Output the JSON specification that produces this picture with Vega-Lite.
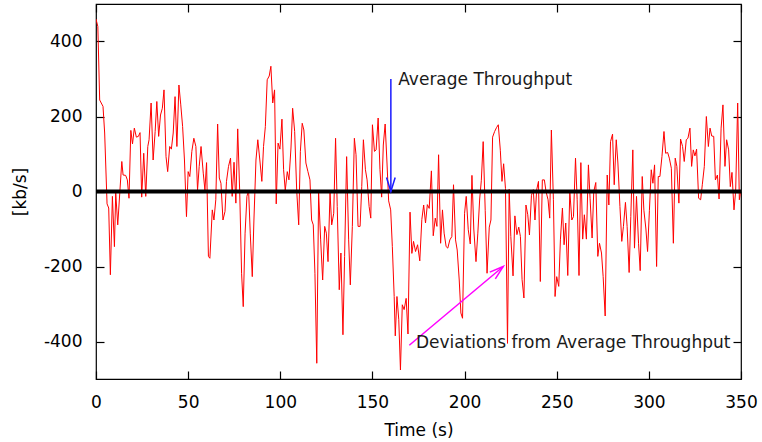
{
  "$schema": "https://vega.github.io/schema/vega-lite/v6.json",
  "width": 645,
  "height": 375,
  "autosize": {"type": "none"},
  "padding": {"left": 96, "top": 4, "right": 21, "bottom": 63},
  "background": "white",
  "config": {
    "view": {"stroke": "black", "strokeWidth": 1.2},
    "axis": {
      "labelFont": "DejaVu Sans", "titleFont": "DejaVu Sans",
      "labelFontSize": 17, "titleFontSize": 17,
      "labelColor": "black", "titleColor": "black", "titleFontWeight": "normal",
      "domain": false, "grid": false, "tickColor": "black", "tickSize": -8, "tickWidth": 1.2
    }
  },
  "datasets": {
    "dev": [
      {"t":0,"v":460},{"t":1,"v":440},{"t":2,"v":244},{"t":3.8,"v":227},{"t":4.7,"v":156},{"t":6,"v":-33},{"t":6.9,"v":-44},{"t":7.8,"v":-222},{"t":8.9,"v":-13},{"t":10,"v":-147},
      {"t":10.7,"v":-4},{"t":11.8,"v":-89},{"t":12.9,"v":-4},{"t":14,"v":80},{"t":14.7,"v":44},{"t":16.1,"v":43},{"t":17,"v":31},{"t":17.9,"v":-18},{"t":18.9,"v":163},{"t":19.8,"v":127},
      {"t":20.8,"v":169},{"t":21.9,"v":145},{"t":23,"v":147},{"t":23.9,"v":157},{"t":24.8,"v":-15},{"t":25.9,"v":102},{"t":27,"v":-13},{"t":28.1,"v":120},{"t":28.8,"v":138},{"t":29.9,"v":236},
      {"t":31,"v":84},{"t":32.1,"v":160},{"t":33,"v":240},{"t":34,"v":147},{"t":35,"v":204},{"t":36,"v":222},{"t":36.9,"v":271},{"t":38,"v":93},{"t":38.9,"v":53},{"t":40,"v":120},
      {"t":40.9,"v":113},{"t":41.9,"v":156},{"t":42.9,"v":253},{"t":43.9,"v":120},{"t":45,"v":284},{"t":46,"v":231},{"t":47,"v":173},{"t":48,"v":84},{"t":49.1,"v":-67},{"t":50,"v":53},
      {"t":50.9,"v":40},{"t":52,"v":107},{"t":53.1,"v":142},{"t":54.2,"v":120},{"t":55.1,"v":4},{"t":56,"v":67},{"t":57,"v":120},{"t":58.2,"v":49},{"t":59.1,"v":4},{"t":60,"v":77},
      {"t":61,"v":-173},{"t":61.8,"v":-178},{"t":63.1,"v":-49},{"t":64,"v":-76},{"t":65,"v":-22},{"t":66,"v":180},{"t":66.9,"v":36},{"t":67.8,"v":22},{"t":68.9,"v":-76},{"t":70,"v":-53},
      {"t":70.8,"v":27},{"t":71.9,"v":67},{"t":73,"v":89},{"t":73.9,"v":-13},{"t":74.9,"v":78},{"t":75.9,"v":-31},{"t":76.9,"v":167},{"t":78,"v":-4},{"t":79,"v":-218},{"t":79.9,"v":-307},
      {"t":80.9,"v":-111},{"t":81.9,"v":-13},{"t":82.8,"v":4},{"t":83.7,"v":-111},{"t":84.8,"v":-227},{"t":85.7,"v":-76},{"t":86.8,"v":84},{"t":87.8,"v":138},{"t":88.9,"v":84},{"t":90,"v":27},
      {"t":90.9,"v":120},{"t":91.9,"v":173},{"t":92.9,"v":298},{"t":94,"v":308},{"t":94.9,"v":334},{"t":95.9,"v":236},{"t":96.9,"v":271},{"t":97.8,"v":-33},{"t":98.8,"v":129},{"t":99.8,"v":113},
      {"t":100.9,"v":193},{"t":101.8,"v":58},{"t":102.7,"v":3},{"t":103.8,"v":53},{"t":104.7,"v":31},{"t":105.8,"v":116},{"t":106.7,"v":222},{"t":107.8,"v":160},{"t":108.9,"v":4},{"t":110,"v":-89},
      {"t":110.9,"v":107},{"t":111.9,"v":182},{"t":112.8,"v":164},{"t":113.9,"v":76},{"t":115,"v":53},{"t":116.1,"v":31},{"t":117,"v":-76},{"t":117.9,"v":-89},{"t":118.8,"v":-218},{"t":119.8,"v":-458},
      {"t":120.8,"v":-4},{"t":121.9,"v":-129},{"t":123,"v":-236},{"t":124.1,"v":-93},{"t":125,"v":-111},{"t":125.9,"v":-187},{"t":127,"v":-4},{"t":127.9,"v":-89},{"t":129,"v":-58},{"t":130,"v":142},
      {"t":130.9,"v":-40},{"t":132,"v":-262},{"t":132.9,"v":-164},{"t":134,"v":-382},{"t":134.9,"v":-173},{"t":136,"v":93},{"t":137.1,"v":-129},{"t":138,"v":-249},{"t":139.1,"v":-93},{"t":140.2,"v":142},
      {"t":141.1,"v":98},{"t":142.2,"v":-93},{"t":143.3,"v":-93},{"t":144.2,"v":13},{"t":145.1,"v":138},{"t":146.2,"v":58},{"t":147.1,"v":31},{"t":148.2,"v":-40},{"t":149.1,"v":-71},{"t":150,"v":178},
      {"t":151.1,"v":107},{"t":152,"v":111},{"t":153.1,"v":196},{"t":154.1,"v":58},{"t":155,"v":-15},{"t":155.9,"v":124},{"t":156.9,"v":180},{"t":157.9,"v":76},{"t":158.8,"v":-25},{"t":159.9,"v":-49},
      {"t":160.8,"v":-147},{"t":161.8,"v":-280},{"t":162.4,"v":-385},{"t":163.3,"v":-280},{"t":164.3,"v":-342},{"t":165.2,"v":-476},{"t":166.2,"v":-302},{"t":167.2,"v":-315},{"t":168.3,"v":-285},{"t":169.3,"v":-380},
      {"t":170.4,"v":-55},{"t":171.4,"v":-165},{"t":172.3,"v":-133},{"t":173.4,"v":-160},{"t":174.5,"v":-142},{"t":175.7,"v":-185},{"t":176.8,"v":-75},{"t":177.8,"v":-36},{"t":178.8,"v":-84},{"t":179.8,"v":-35},
      {"t":180.8,"v":-45},{"t":182,"v":55},{"t":183,"v":-118},{"t":184.1,"v":-71},{"t":185,"v":-93},{"t":185.9,"v":98},{"t":187,"v":-138},{"t":188,"v":-49},{"t":188.9,"v":-111},{"t":190,"v":-147},
      {"t":190.9,"v":-151},{"t":192,"v":-129},{"t":193.1,"v":-120},{"t":194,"v":18},{"t":195.1,"v":-129},{"t":196,"v":-156},{"t":197.1,"v":-236},{"t":198,"v":-324},{"t":198.9,"v":-338},{"t":200,"v":-58},
      {"t":200.9,"v":-13},{"t":202,"v":-102},{"t":203.1,"v":-140},{"t":204,"v":43},{"t":205,"v":-100},{"t":206.2,"v":-187},{"t":207.2,"v":-111},{"t":208.2,"v":-20},{"t":209.1,"v":30},{"t":210.1,"v":133},
      {"t":211.2,"v":-50},{"t":212.2,"v":-218},{"t":213.4,"v":-95},{"t":214.3,"v":-76},{"t":215.2,"v":145},{"t":216.3,"v":160},{"t":217.3,"v":170},{"t":218.3,"v":178},{"t":219.4,"v":110},{"t":220.3,"v":27},
      {"t":221.2,"v":74},{"t":222.2,"v":8},{"t":223.3,"v":-405},{"t":224.2,"v":6},{"t":225.1,"v":-120},{"t":226.3,"v":-225},{"t":227.3,"v":-65},{"t":228.4,"v":-115},{"t":229.4,"v":-95},{"t":230.3,"v":-120},
      {"t":231.2,"v":-235},{"t":232.2,"v":-284},{"t":233.3,"v":-36},{"t":234.3,"v":-62},{"t":235.2,"v":-116},{"t":236.3,"v":-10},{"t":237.3,"v":5},{"t":238.2,"v":-76},{"t":239.1,"v":4},{"t":240.1,"v":27},
      {"t":241.1,"v":-240},{"t":242.2,"v":31},{"t":243.3,"v":31},{"t":244.2,"v":0},{"t":245.3,"v":-22},{"t":246.2,"v":-71},{"t":247.1,"v":164},{"t":248.2,"v":-22},{"t":249.1,"v":-280},{"t":250,"v":-227},
      {"t":251.1,"v":-253},{"t":252,"v":-129},{"t":253.1,"v":-44},{"t":254,"v":-142},{"t":254.9,"v":-84},{"t":256,"v":-224},{"t":257.1,"v":0},{"t":258.2,"v":-76},{"t":259.1,"v":-67},{"t":260.2,"v":89},
      {"t":261.1,"v":-22},{"t":262.1,"v":-224},{"t":263.1,"v":77},{"t":264.1,"v":-127},{"t":265,"v":-62},{"t":266.1,"v":-127},{"t":267.2,"v":71},{"t":268.1,"v":-18},{"t":269.2,"v":-124},{"t":270.1,"v":0},
      {"t":271.2,"v":24},{"t":272.3,"v":-173},{"t":273.2,"v":-138},{"t":274.3,"v":-164},{"t":275.2,"v":-227},{"t":276.3,"v":-332},{"t":277.4,"v":44},{"t":278.3,"v":-36},{"t":279.2,"v":133},{"t":280.3,"v":153},
      {"t":281.2,"v":18},{"t":282.3,"v":138},{"t":283.2,"v":76},{"t":284.3,"v":-40},{"t":285.3,"v":-133},{"t":286.2,"v":-93},{"t":287.3,"v":-29},{"t":288.2,"v":-93},{"t":289.3,"v":-216},{"t":290.2,"v":-67},
      {"t":291.3,"v":111},{"t":292.2,"v":-151},{"t":293.3,"v":-13},{"t":294.4,"v":-138},{"t":295.3,"v":-211},{"t":296.4,"v":40},{"t":297.3,"v":-50},{"t":298.4,"v":-100},{"t":299.3,"v":-160},{"t":300.3,"v":-50},
      {"t":301.3,"v":58},{"t":302.2,"v":22},{"t":303.1,"v":71},{"t":304.2,"v":-200},{"t":305.1,"v":40},{"t":306,"v":40},{"t":307.1,"v":93},{"t":308.2,"v":160},{"t":309.1,"v":102},{"t":310.2,"v":104},
      {"t":311.1,"v":89},{"t":312.2,"v":62},{"t":313.3,"v":-138},{"t":314.3,"v":89},{"t":315.2,"v":67},{"t":316.3,"v":-31},{"t":317.2,"v":140},{"t":318.3,"v":120},{"t":319.2,"v":80},{"t":320.3,"v":138},
      {"t":321.2,"v":142},{"t":322.3,"v":169},{"t":323.2,"v":67},{"t":324.1,"v":111},{"t":325,"v":95},{"t":325.9,"v":113},{"t":327,"v":-18},{"t":328.1,"v":-22},{"t":329,"v":18},{"t":330.1,"v":67},
      {"t":331.2,"v":200},{"t":332.3,"v":120},{"t":333.2,"v":169},{"t":334.1,"v":148},{"t":335.2,"v":147},{"t":336.1,"v":31},{"t":337.2,"v":44},{"t":338.1,"v":-20},{"t":339.2,"v":169},{"t":340.2,"v":231},
      {"t":341.3,"v":67},{"t":342.2,"v":138},{"t":343.3,"v":111},{"t":344.2,"v":13},{"t":345.1,"v":51},{"t":346.2,"v":-49},{"t":347.1,"v":0},{"t":348.2,"v":236},{"t":349.1,"v":-22},{"t":349.8,"v":0}
    ],
    "avgArrow": [{"x": 160, "y": 300, "x2": 160, "y2": 0}],
    "devArrow": [{"x": 170, "y": -410, "x2": 221, "y2": -200}],
    "notes": [
      {"x": 164, "y": 284, "label": "Average Throughput"},
      {"x": 173.6, "y": -416, "label": "Deviations from Average Throughput"}
    ]
  },
  "layer": [
    {
      "data": {"name": "dev"},
      "mark": {"type": "line", "color": "#ff0000", "strokeWidth": 1, "clip": true},
      "encoding": {
        "x": {"field": "t", "type": "quantitative",
              "scale": {"domain": [0, 350], "nice": false, "zero": false},
              "axis": {"orient": "bottom", "values": [0, 50, 100, 150, 200, 250, 300, 350],
                       "title": "Time (s)", "labelPadding": 23, "titlePadding": 12,
                       "labelExpr": "'' + datum.value", "labelFlush": false}},
        "y": {"field": "v", "type": "quantitative",
              "scale": {"domain": [-500, 500], "nice": false, "zero": false},
              "axis": {"orient": "left", "values": [-400, -200, 0, 200, 400],
                       "title": "[kb/s]", "labelPadding": 22, "titlePadding": 14,
                       "labelExpr": "'' + datum.value"}}
      }
    },
    {
      "data": {"values": [{}]},
      "mark": {"type": "rule", "color": "black", "strokeWidth": 4},
      "encoding": {"y": {"datum": 0, "type": "quantitative", "axis": null}}
    },
    {
      "data": {"name": "avgArrow"},
      "mark": {"type": "rule", "color": "#1a1aff", "strokeWidth": 1.5},
      "encoding": {
        "x": {"field": "x", "type": "quantitative",
              "axis": {"orient": "top", "values": [0, 50, 100, 150, 200, 250, 300, 350], "labels": false, "title": null}},
        "y": {"field": "y", "type": "quantitative",
              "axis": {"orient": "right", "values": [-400, -200, 0, 200, 400], "labels": false, "title": null}},
        "x2": {"field": "x2"},
        "y2": {"field": "y2"}
      }
    },
    {
      "data": {"name": "avgArrow"},
      "mark": {"type": "point", "shape": "M-0.31,-1L0,0L0.31,-1", "size": 784, "filled": false, "stroke": "#1a1aff", "strokeWidth": 1.5, "opacity": 1},
      "encoding": {
        "x": {"field": "x2", "type": "quantitative", "axis": null},
        "y": {"field": "y2", "type": "quantitative", "axis": null}
      }
    },
    {
      "data": {"name": "devArrow"},
      "mark": {"type": "rule", "color": "#ff00ff", "strokeWidth": 1.5},
      "encoding": {
        "x": {"field": "x", "type": "quantitative", "axis": null},
        "y": {"field": "y", "type": "quantitative", "axis": null},
        "x2": {"field": "x2"},
        "y2": {"field": "y2"}
      }
    },
    {
      "data": {"name": "devArrow"},
      "mark": {"type": "point", "shape": "M-0.31,-1L0,0L0.31,-1", "size": 784, "filled": false, "stroke": "#ff00ff", "strokeWidth": 1.5, "opacity": 1, "angle": 230},
      "encoding": {
        "x": {"field": "x2", "type": "quantitative", "axis": null},
        "y": {"field": "y2", "type": "quantitative", "axis": null}
      }
    },
    {
      "data": {"name": "notes"},
      "mark": {"type": "text", "align": "left", "baseline": "alphabetic", "font": "DejaVu Sans", "fontSize": 17, "color": "#1a1a1a"},
      "encoding": {
        "x": {"field": "x", "type": "quantitative", "axis": null},
        "y": {"field": "y", "type": "quantitative", "axis": null},
        "text": {"field": "label"}
      }
    }
  ],
  "resolve": {"axis": {"x": "independent", "y": "independent"}}
}
